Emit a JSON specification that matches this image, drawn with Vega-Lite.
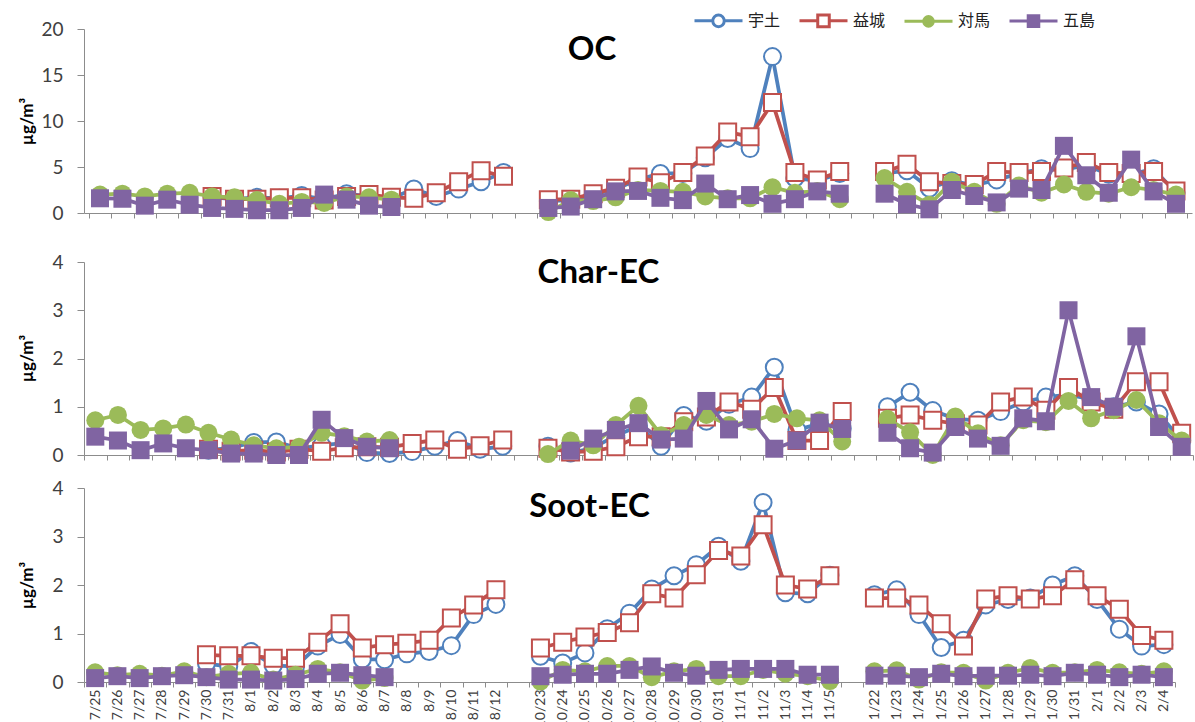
{
"$schema": "https://vega.github.io/schema/vega-lite/v6.json",
"background": "white",
"padding": {"left": 18, "top": -5, "right": 0, "bottom": 0},
"config": {"font": "Lato", "view": {"stroke": null}, "axis": {"labelFont": "Lato", "titleFont": "Lato"}},
"data": {"values": [
{"p":"O","d":"7/25","g":1,"対馬":2.0,"五島":1.6},
{"p":"O","d":"7/26","g":1,"対馬":2.1,"五島":1.55},
{"p":"O","d":"7/27","g":1,"対馬":1.8,"五島":0.8},
{"p":"O","d":"7/28","g":1,"対馬":2.1,"五島":1.45},
{"p":"O","d":"7/29","g":1,"対馬":2.2,"五島":0.9},
{"p":"O","d":"7/30","g":1,"宇土":1.7,"益城":1.8,"対馬":1.8,"五島":0.55},
{"p":"O","d":"7/31","g":1,"宇土":1.5,"益城":1.5,"対馬":1.7,"五島":0.45},
{"p":"O","d":"8/1","g":1,"宇土":1.7,"益城":1.5,"対馬":1.4,"五島":0.3},
{"p":"O","d":"8/2","g":1,"宇土":1.6,"益城":1.65,"対馬":1.0,"五島":0.3},
{"p":"O","d":"8/3","g":1,"宇土":1.9,"益城":1.65,"対馬":1.2,"五島":0.55},
{"p":"O","d":"8/4","g":1,"宇土":1.5,"益城":1.4,"対馬":1.1,"五島":2.0},
{"p":"O","d":"8/5","g":1,"宇土":2.1,"益城":1.8,"対馬":1.8,"五島":1.45},
{"p":"O","d":"8/6","g":1,"宇土":1.8,"益城":2.0,"対馬":1.7,"五島":0.8},
{"p":"O","d":"8/7","g":1,"宇土":1.6,"益城":1.7,"対馬":1.45,"五島":0.65},
{"p":"O","d":"8/8","g":1,"宇土":2.6,"益城":1.6},
{"p":"O","d":"8/9","g":1,"宇土":1.8,"益城":2.2},
{"p":"O","d":"8/10","g":1,"宇土":2.6,"益城":3.4},
{"p":"O","d":"8/11","g":1,"宇土":3.4,"益城":4.6},
{"p":"O","d":"8/12","g":1,"宇土":4.4,"益城":4.0},
{"p":"O","d":"10/23","g":2,"宇土":1.3,"益城":1.45,"対馬":0.1,"五島":0.55},
{"p":"O","d":"10/24","g":2,"宇土":1.4,"益城":1.5,"対馬":1.4,"五島":0.7},
{"p":"O","d":"10/25","g":2,"宇土":2.0,"益城":2.1,"対馬":1.3,"五島":1.5},
{"p":"O","d":"10/26","g":2,"宇土":2.6,"益城":2.7,"対馬":1.7,"五島":2.35},
{"p":"O","d":"10/27","g":2,"宇土":3.6,"益城":3.9,"対馬":2.5,"五島":2.4},
{"p":"O","d":"10/28","g":2,"宇土":4.3,"益城":3.3,"対馬":2.4,"五島":1.65},
{"p":"O","d":"10/29","g":2,"宇土":4.3,"益城":4.4,"対馬":2.3,"五島":1.4},
{"p":"O","d":"10/30","g":2,"宇土":6.0,"益城":6.2,"対馬":1.8,"五島":3.2},
{"p":"O","d":"10/31","g":2,"宇土":8.1,"益城":8.8,"対馬":1.6,"五島":1.5},
{"p":"O","d":"11/1","g":2,"宇土":7.0,"益城":8.3,"対馬":1.6,"五島":1.95},
{"p":"O","d":"11/2","g":2,"宇土":17.0,"益城":12.0,"対馬":2.8,"五島":1.0},
{"p":"O","d":"11/3","g":2,"宇土":3.8,"益城":4.4,"対馬":2.2,"五島":1.5},
{"p":"O","d":"11/4","g":2,"宇土":3.5,"益城":3.6,"対馬":2.4,"五島":2.35},
{"p":"O","d":"11/5","g":2,"宇土":4.3,"益城":4.5,"対馬":1.5,"五島":2.1},
{"p":"O","d":"1/22","g":3,"宇土":4.3,"益城":4.5,"対馬":3.8,"五島":2.1},
{"p":"O","d":"1/23","g":3,"宇土":4.6,"益城":5.3,"対馬":2.3,"五島":0.95},
{"p":"O","d":"1/24","g":3,"宇土":2.7,"益城":3.4,"対馬":0.9,"五島":0.4},
{"p":"O","d":"1/25","g":3,"宇土":3.5,"益城":3.2,"対馬":3.4,"五島":2.5},
{"p":"O","d":"1/26","g":3,"宇土":3.0,"益城":3.1,"対馬":2.3,"五島":1.85},
{"p":"O","d":"1/27","g":3,"宇土":3.6,"益城":4.5,"対馬":1.0,"五島":1.15},
{"p":"O","d":"1/28","g":3,"宇土":4.3,"益城":4.4,"対馬":3.0,"五島":2.65},
{"p":"O","d":"1/29","g":3,"宇土":4.8,"益城":4.5,"対馬":2.2,"五島":2.5},
{"p":"O","d":"1/30","g":3,"宇土":4.7,"益城":4.9,"対馬":3.1,"五島":7.3},
{"p":"O","d":"1/31","g":3,"宇土":5.2,"益城":5.5,"対馬":2.3,"五島":4.1},
{"p":"O","d":"2/1","g":3,"宇土":4.2,"益城":4.4,"対馬":2.1,"五島":2.2},
{"p":"O","d":"2/2","g":3,"宇土":4.2,"益城":4.3,"対馬":2.8,"五島":5.8},
{"p":"O","d":"2/3","g":3,"宇土":4.8,"益城":4.5,"対馬":2.5,"五島":2.35},
{"p":"O","d":"2/4","g":3,"宇土":2.2,"益城":2.4,"対馬":2.0,"五島":1.0},
{"p":"C","d":"7/25","g":1,"対馬":0.72,"五島":0.38},
{"p":"C","d":"7/26","g":1,"対馬":0.83,"五島":0.3},
{"p":"C","d":"7/27","g":1,"対馬":0.52,"五島":0.1},
{"p":"C","d":"7/28","g":1,"対馬":0.55,"五島":0.24},
{"p":"C","d":"7/29","g":1,"対馬":0.63,"五島":0.14},
{"p":"C","d":"7/30","g":1,"宇土":0.1,"益城":0.12,"対馬":0.46,"五島":0.1},
{"p":"C","d":"7/31","g":1,"宇土":0.15,"益城":0.08,"対馬":0.32,"五島":0.03},
{"p":"C","d":"8/1","g":1,"宇土":0.26,"益城":0.1,"対馬":0.2,"五島":0.03},
{"p":"C","d":"8/2","g":1,"宇土":0.27,"益城":0.06,"対馬":0.14,"五島":0.0},
{"p":"C","d":"8/3","g":1,"宇土":0.14,"益城":0.12,"対馬":0.17,"五島":0.0},
{"p":"C","d":"8/4","g":1,"宇土":0.2,"益城":0.08,"対馬":0.46,"五島":0.73},
{"p":"C","d":"8/5","g":1,"宇土":0.25,"益城":0.15,"対馬":0.39,"五島":0.35},
{"p":"C","d":"8/6","g":1,"宇土":0.05,"益城":0.17,"対馬":0.28,"五島":0.17},
{"p":"C","d":"8/7","g":1,"宇土":0.03,"益城":0.16,"対馬":0.31,"五島":0.14},
{"p":"C","d":"8/8","g":1,"宇土":0.07,"益城":0.24},
{"p":"C","d":"8/9","g":1,"宇土":0.18,"益城":0.31},
{"p":"C","d":"8/10","g":1,"宇土":0.3,"益城":0.12},
{"p":"C","d":"8/11","g":1,"宇土":0.12,"益城":0.19},
{"p":"C","d":"8/12","g":1,"宇土":0.18,"益城":0.31},
{"p":"C","d":"10/23","g":2,"宇土":0.18,"益城":0.14,"対馬":0.02},
{"p":"C","d":"10/24","g":2,"宇土":0.04,"益城":0.06,"対馬":0.3,"五島":0.09},
{"p":"C","d":"10/25","g":2,"宇土":0.15,"益城":0.08,"対馬":0.2,"五島":0.34},
{"p":"C","d":"10/26","g":2,"宇土":0.4,"益城":0.17,"対馬":0.62,"五島":0.52},
{"p":"C","d":"10/27","g":2,"宇土":0.6,"益城":0.38,"対馬":1.02,"五島":0.66},
{"p":"C","d":"10/28","g":2,"宇土":0.18,"益城":0.38,"対馬":0.41,"五島":0.32},
{"p":"C","d":"10/29","g":2,"宇土":0.82,"益城":0.69,"対馬":0.62,"五島":0.34},
{"p":"C","d":"10/30","g":2,"宇土":0.7,"益城":0.79,"対馬":0.83,"五島":1.12},
{"p":"C","d":"10/31","g":2,"宇土":1.05,"益城":1.1,"対馬":0.62,"五島":0.53},
{"p":"C","d":"11/1","g":2,"宇土":1.2,"益城":0.95,"対馬":0.69,"五島":0.74},
{"p":"C","d":"11/2","g":2,"宇土":1.82,"益城":1.4,"対馬":0.85,"五島":0.13},
{"p":"C","d":"11/3","g":2,"宇土":0.52,"益城":0.3,"対馬":0.76,"五島":0.3},
{"p":"C","d":"11/4","g":2,"宇土":0.65,"益城":0.3,"対馬":0.72,"五島":0.67},
{"p":"C","d":"11/5","g":2,"宇土":0.55,"益城":0.9,"対馬":0.28,"五島":0.54},
{"p":"C","d":"1/22","g":3,"宇土":1.0,"益城":0.76,"対馬":0.75,"五島":0.46},
{"p":"C","d":"1/23","g":3,"宇土":1.3,"益城":0.83,"対馬":0.47,"五島":0.14},
{"p":"C","d":"1/24","g":3,"宇土":0.92,"益城":0.72,"対馬":0.0,"五島":0.05},
{"p":"C","d":"1/25","g":3,"宇土":0.75,"益城":0.65,"対馬":0.8,"五島":0.58},
{"p":"C","d":"1/26","g":3,"宇土":0.72,"益城":0.62,"対馬":0.45,"五島":0.34},
{"p":"C","d":"1/27","g":3,"宇土":0.9,"益城":1.1,"対馬":0.2,"五島":0.19},
{"p":"C","d":"1/28","g":3,"宇土":1.1,"益城":1.2,"対馬":0.72,"五島":0.76},
{"p":"C","d":"1/29","g":3,"宇土":1.2,"益城":0.93,"対馬":0.68,"五島":0.7},
{"p":"C","d":"1/30","g":3,"宇土":1.25,"益城":1.4,"対馬":1.12,"五島":3.0},
{"p":"C","d":"1/31","g":3,"宇土":1.15,"益城":1.1,"対馬":0.76,"五島":1.2},
{"p":"C","d":"2/1","g":3,"宇土":1.0,"益城":0.95,"対馬":0.93,"五島":1.0},
{"p":"C","d":"2/2","g":3,"宇土":1.1,"益城":1.52,"対馬":1.14,"五島":2.46},
{"p":"C","d":"2/3","g":3,"宇土":0.85,"益城":1.52,"対馬":0.66,"五島":0.58},
{"p":"C","d":"2/4","g":3,"宇土":0.3,"益城":0.45,"対馬":0.3,"五島":0.17},
{"p":"S","d":"7/25","g":1,"対馬":0.2,"五島":0.08},
{"p":"S","d":"7/26","g":1,"対馬":0.14,"五島":0.12},
{"p":"S","d":"7/27","g":1,"対馬":0.17,"五島":0.08},
{"p":"S","d":"7/28","g":1,"対馬":0.13,"五島":0.12},
{"p":"S","d":"7/29","g":1,"対馬":0.22,"五島":0.14},
{"p":"S","d":"7/30","g":1,"宇土":0.38,"益城":0.56,"対馬":0.1,"五島":0.1},
{"p":"S","d":"7/31","g":1,"宇土":0.32,"益城":0.54,"対馬":0.17,"五島":0.05},
{"p":"S","d":"8/1","g":1,"宇土":0.63,"益城":0.54,"対馬":0.19,"五島":0.05},
{"p":"S","d":"8/2","g":1,"宇土":0.34,"益城":0.49,"対馬":0.05,"五島":0.03},
{"p":"S","d":"8/3","g":1,"宇土":0.32,"益城":0.49,"対馬":0.15,"五島":0.06},
{"p":"S","d":"8/4","g":1,"宇土":0.74,"益城":0.82,"対馬":0.27,"五島":0.17},
{"p":"S","d":"8/5","g":1,"宇土":0.98,"益城":1.2,"対馬":0.2,"五島":0.19},
{"p":"S","d":"8/6","g":1,"宇土":0.47,"益城":0.7,"対馬":0.03,"五島":0.14},
{"p":"S","d":"8/7","g":1,"宇土":0.46,"益城":0.77,"対馬":0.08,"五島":0.1},
{"p":"S","d":"8/8","g":1,"宇土":0.58,"益城":0.8},
{"p":"S","d":"8/9","g":1,"宇土":0.63,"益城":0.86},
{"p":"S","d":"8/10","g":1,"宇土":0.75,"益城":1.32},
{"p":"S","d":"8/11","g":1,"宇土":1.39,"益城":1.59},
{"p":"S","d":"8/12","g":1,"宇土":1.6,"益城":1.9},
{"p":"S","d":"10/23","g":2,"宇土":0.53,"益城":0.7,"対馬":0.01,"五島":0.12},
{"p":"S","d":"10/24","g":2,"宇土":0.39,"益城":0.82,"対馬":0.25,"五島":0.15},
{"p":"S","d":"10/25","g":2,"宇土":0.6,"益城":0.93,"対馬":0.22,"五島":0.17},
{"p":"S","d":"10/26","g":2,"宇土":1.1,"益城":1.02,"対馬":0.33,"五島":0.17},
{"p":"S","d":"10/27","g":2,"宇土":1.42,"益城":1.22,"対馬":0.33,"五島":0.25},
{"p":"S","d":"10/28","g":2,"宇土":1.92,"益城":1.82,"対馬":0.1,"五島":0.32},
{"p":"S","d":"10/29","g":2,"宇土":2.19,"益城":1.73,"対馬":0.22,"五島":0.19},
{"p":"S","d":"10/30","g":2,"宇土":2.42,"益城":2.21,"対馬":0.27,"五島":0.13},
{"p":"S","d":"10/31","g":2,"宇土":2.8,"益城":2.71,"対馬":0.12,"五島":0.25},
{"p":"S","d":"11/1","g":2,"宇土":2.49,"益城":2.6,"対馬":0.12,"五島":0.27},
{"p":"S","d":"11/2","g":2,"宇土":3.7,"益城":3.24,"対馬":0.25,"五島":0.27},
{"p":"S","d":"11/3","g":2,"宇土":1.84,"益城":2.0,"対馬":0.17,"五島":0.27},
{"p":"S","d":"11/4","g":2,"宇土":1.82,"益城":1.92,"対馬":0.12,"五島":0.15},
{"p":"S","d":"11/5","g":2,"宇土":2.2,"益城":2.19,"対馬":0.02,"五島":0.15},
{"p":"S","d":"1/22","g":3,"宇土":1.8,"益城":1.73,"対馬":0.22,"五島":0.13},
{"p":"S","d":"1/23","g":3,"宇土":1.9,"益城":1.73,"対馬":0.24,"五島":0.13},
{"p":"S","d":"1/24","g":3,"宇土":1.39,"益城":1.59,"対馬":0.05,"五島":0.1},
{"p":"S","d":"1/25","g":3,"宇土":0.71,"益城":1.2,"対馬":0.2,"五島":0.17},
{"p":"S","d":"1/26","g":3,"宇土":0.86,"益城":0.74,"対馬":0.19,"五島":0.12},
{"p":"S","d":"1/27","g":3,"宇土":1.59,"益城":1.71,"対馬":0.03,"五島":0.13},
{"p":"S","d":"1/28","g":3,"宇土":1.7,"益城":1.78,"対馬":0.19,"五島":0.13},
{"p":"S","d":"1/29","g":3,"宇土":1.73,"益城":1.71,"対馬":0.29,"五島":0.15},
{"p":"S","d":"1/30","g":3,"宇土":2.0,"益城":1.78,"対馬":0.19,"五島":0.12},
{"p":"S","d":"1/31","g":3,"宇土":2.19,"益城":2.11,"対馬":0.2,"五島":0.19},
{"p":"S","d":"2/1","g":3,"宇土":1.7,"益城":1.78,"対馬":0.25,"五島":0.15},
{"p":"S","d":"2/2","g":3,"宇土":1.09,"益城":1.5,"対馬":0.2,"五島":0.1},
{"p":"S","d":"2/3","g":3,"宇土":0.74,"益城":0.96,"対馬":0.17,"五島":0.15},
{"p":"S","d":"2/4","g":3,"宇土":0.77,"益城":0.86,"対馬":0.22,"五島":0.1}
]},
"transform": [{"fold": ["宇土","益城","対馬","五島"], "as": ["s","v"]}],
"resolve": {"scale": {"x": "independent", "y": "independent"}},
"bounds": "flush",
"spacing": 33,
"vconcat": [
{
"width": 1108, "height": 184,
"title": {"text": "OC", "fontSize": 33, "font": "Lato", "fontWeight": "bold", "color": "#000", "anchor": "middle", "frame": "group", "offset": -47, "dx": -46},
"transform": [{"filter": "datum.p === 'O'"}],
"encoding": {
"x": {"field": "d", "type": "ordinal",
"sort": ["7/25","7/26","7/27","7/28","7/29","7/30","7/31","8/1","8/2","8/3","8/4","8/5","8/6","8/7","8/8","8/9","8/10","8/11","8/12"," ","10/23","10/24","10/25","10/26","10/27","10/28","10/29","10/30","10/31","11/1","11/2","11/3","11/4","11/5","  ","1/22","1/23","1/24","1/25","1/26","1/27","1/28","1/29","1/30","1/31","2/1","2/2","2/3","2/4"],
"scale": {"type": "band", "paddingInner": 0, "paddingOuter": 0.214, "domain": ["7/25","7/26","7/27","7/28","7/29","7/30","7/31","8/1","8/2","8/3","8/4","8/5","8/6","8/7","8/8","8/9","8/10","8/11","8/12"," ","10/23","10/24","10/25","10/26","10/27","10/28","10/29","10/30","10/31","11/1","11/2","11/3","11/4","11/5","  ","1/22","1/23","1/24","1/25","1/26","1/27","1/28","1/29","1/30","1/31","2/1","2/2","2/3","2/4"]},
"axis": {"title": null, "labels": false, "ticks": true, "tickBand": "extent", "tickSize": 5, "tickColor": "#8c8c8c", "domainColor": "#8c8c8c", "grid": false}},
"y": {"field": "v", "type": "quantitative", "scale": {"domain": [0, 20], "nice": false},
"axis": {"values": [0,5,10,15,20], "title": "µg/m³", "titleX": -57, "titleY": 92, "titleAngle": 270, "titleBaseline": "middle", "titleAlign": "center", "titleFontSize": 17, "titleFontWeight": "bold", "titleColor": "#000", "labelFontSize": 19, "labelColor": "#404040", "labelPadding": 14, "tickSize": 7, "tickColor": "#8c8c8c", "domainColor": "#8c8c8c", "grid": false}},
"color": {"field": "s", "type": "nominal", "scale": {"domain": ["宇土","益城","対馬","五島"], "range": ["#4F81BD","#C0504D","#9BBB59","#8064A2"]},
"legend": {"orient": "none", "legendX": 609, "legendY": -34, "direction": "horizontal", "title": null, "symbolSize": 2304, "labelFont": "Noto Sans CJK JP", "labelFontSize": 16, "labelColor": "#222", "labelOffset": 4, "columnPadding": 12,
"encode": {"symbols": {"update": {
"shape": {"signal": "datum.value === '宇土' ? 'M-1,0H-0.24M0.24,0H1M0.24,0A0.24,0.24 0 1,1 -0.24,0A0.24,0.24 0 1,1 0.24,0ZM0.24,0A0.24,0.24 0 1,0 -0.24,0A0.24,0.24 0 1,0 0.24,0Z' : datum.value === '益城' ? 'M-1,0H-0.24M0.24,0H1M-0.24,-0.24H0.24V0.24H-0.24ZM-0.24,-0.24V0.24H0.24V-0.24Z' : datum.value === '対馬' ? 'M-1,0H1M0.2,0A0.2,0.2 0 1,1 -0.2,0A0.2,0.2 0 1,1 0.2,0Z' : 'M-1,0H1M-0.22,-0.22H0.22V0.22H-0.22Z'"},
"fill": {"signal": "datum.value === '宇土' || datum.value === '益城' ? 'white' : datum.value === '対馬' ? '#9BBB59' : '#8064A2'"},
"stroke": {"signal": "datum.value === '宇土' ? '#4F81BD' : datum.value === '益城' ? '#C0504D' : datum.value === '対馬' ? '#9BBB59' : '#8064A2'"},
"strokeWidth": {"value": 3}, "opacity": {"value": 1}}}}}},
"detail": {"field": "g", "type": "nominal"}
},
"layer": [
{"transform": [{"filter": "datum.s === '宇土'"}], "layer": [
{"mark": {"type": "line", "strokeWidth": 3.75}},
{"mark": {"type": "point", "shape": "circle", "filled": false, "fill": "white", "strokeWidth": 2, "size": 289, "opacity": 1}}]},
{"transform": [{"filter": "datum.s === '益城'"}], "layer": [
{"mark": {"type": "line", "strokeWidth": 3.75}},
{"mark": {"type": "point", "shape": "square", "filled": false, "fill": "white", "strokeWidth": 2, "size": 289, "opacity": 1}}]},
{"transform": [{"filter": "datum.s === '対馬'"}], "layer": [
{"mark": {"type": "line", "strokeWidth": 3.75}},
{"mark": {"type": "point", "shape": "circle", "filled": true, "size": 324, "opacity": 1}}]},
{"transform": [{"filter": "datum.s === '五島'"}], "layer": [
{"mark": {"type": "line", "strokeWidth": 3.75}},
{"mark": {"type": "point", "shape": "square", "filled": true, "size": 324, "opacity": 1}}]}
]
},
{
"width": 1109, "height": 209,
"title": {"text": "Char-EC", "fontSize": 33, "font": "Lato", "fontWeight": "bold", "color": "#000", "anchor": "middle", "frame": "group", "offset": -44, "dx": -40},
"transform": [{"filter": "datum.p === 'C'"}],
"encoding": {
"x": {"field": "d", "type": "ordinal",
"sort": ["7/25","7/26","7/27","7/28","7/29","7/30","7/31","8/1","8/2","8/3","8/4","8/5","8/6","8/7","8/8","8/9","8/10","8/11","8/12"," ","10/23","10/24","10/25","10/26","10/27","10/28","10/29","10/30","10/31","11/1","11/2","11/3","11/4","11/5","  ","1/22","1/23","1/24","1/25","1/26","1/27","1/28","1/29","1/30","1/31","2/1","2/2","2/3","2/4"],
"scale": {"type": "band", "paddingInner": 0, "paddingOuter": 0, "domain": ["7/25","7/26","7/27","7/28","7/29","7/30","7/31","8/1","8/2","8/3","8/4","8/5","8/6","8/7","8/8","8/9","8/10","8/11","8/12"," ","10/23","10/24","10/25","10/26","10/27","10/28","10/29","10/30","10/31","11/1","11/2","11/3","11/4","11/5","  ","1/22","1/23","1/24","1/25","1/26","1/27","1/28","1/29","1/30","1/31","2/1","2/2","2/3","2/4"]},
"axis": {"title": null, "labels": false, "ticks": true, "tickBand": "extent", "tickSize": 5, "tickColor": "#8c8c8c", "domainColor": "#8c8c8c", "grid": false}},
"y": {"field": "v", "type": "quantitative", "scale": {"domain": [0, 4], "nice": false, "range": [209, 16]},
"axis": {"values": [0,1,2,3,4], "title": "µg/m³", "titleX": -57, "titleY": 112, "titleAngle": 270, "titleBaseline": "middle", "titleAlign": "center", "titleFontSize": 17, "titleFontWeight": "bold", "titleColor": "#000", "labelFontSize": 19, "labelColor": "#404040", "labelPadding": 14, "tickSize": 7, "tickColor": "#8c8c8c", "domainColor": "#8c8c8c", "grid": false}},
"color": {"field": "s", "type": "nominal", "scale": {"domain": ["宇土","益城","対馬","五島"], "range": ["#4F81BD","#C0504D","#9BBB59","#8064A2"]}},
"detail": {"field": "g", "type": "nominal"}
},
"layer": [
{"transform": [{"filter": "datum.s === '宇土'"}], "layer": [
{"mark": {"type": "line", "strokeWidth": 3.75}},
{"mark": {"type": "point", "shape": "circle", "filled": false, "fill": "white", "strokeWidth": 2, "size": 289, "opacity": 1}}]},
{"transform": [{"filter": "datum.s === '益城'"}], "layer": [
{"mark": {"type": "line", "strokeWidth": 3.75}},
{"mark": {"type": "point", "shape": "square", "filled": false, "fill": "white", "strokeWidth": 2, "size": 289, "opacity": 1}}]},
{"transform": [{"filter": "datum.s === '対馬'"}], "layer": [
{"mark": {"type": "line", "strokeWidth": 3.75}},
{"mark": {"type": "point", "shape": "circle", "filled": true, "size": 324, "opacity": 1}}]},
{"transform": [{"filter": "datum.s === '五島'"}], "layer": [
{"mark": {"type": "line", "strokeWidth": 3.75}},
{"mark": {"type": "point", "shape": "square", "filled": true, "size": 324, "opacity": 1}}]}
]
},
{
"width": 1091, "height": 194,
"title": {"text": "Soot-EC", "fontSize": 33, "font": "Lato", "fontWeight": "bold", "color": "#000", "anchor": "middle", "frame": "group", "offset": -45, "dx": -40},
"transform": [{"filter": "datum.p === 'S'"}],
"encoding": {
"x": {"field": "d", "type": "ordinal",
"sort": ["7/25","7/26","7/27","7/28","7/29","7/30","7/31","8/1","8/2","8/3","8/4","8/5","8/6","8/7","8/8","8/9","8/10","8/11","8/12"," ","10/23","10/24","10/25","10/26","10/27","10/28","10/29","10/30","10/31","11/1","11/2","11/3","11/4","11/5","  ","1/22","1/23","1/24","1/25","1/26","1/27","1/28","1/29","1/30","1/31","2/1","2/2","2/3","2/4"],
"scale": {"type": "band", "paddingInner": 0, "paddingOuter": 0, "domain": ["7/25","7/26","7/27","7/28","7/29","7/30","7/31","8/1","8/2","8/3","8/4","8/5","8/6","8/7","8/8","8/9","8/10","8/11","8/12"," ","10/23","10/24","10/25","10/26","10/27","10/28","10/29","10/30","10/31","11/1","11/2","11/3","11/4","11/5","  ","1/22","1/23","1/24","1/25","1/26","1/27","1/28","1/29","1/30","1/31","2/1","2/2","2/3","2/4"]},
"axis": {"title": null, "labels": true, "labelAngle": 270, "labelFontSize": 14, "labelColor": "#404040", "labelPadding": 2, "ticks": true, "tickBand": "extent", "tickSize": 5, "tickColor": "#8c8c8c", "domainColor": "#8c8c8c", "grid": false}},
"y": {"field": "v", "type": "quantitative", "scale": {"domain": [0, 4], "nice": false},
"axis": {"values": [0,1,2,3,4], "title": "µg/m³", "titleX": -57, "titleY": 97, "titleAngle": 270, "titleBaseline": "middle", "titleAlign": "center", "titleFontSize": 17, "titleFontWeight": "bold", "titleColor": "#000", "labelFontSize": 19, "labelColor": "#404040", "labelPadding": 14, "tickSize": 7, "tickColor": "#8c8c8c", "domainColor": "#8c8c8c", "grid": false}},
"color": {"field": "s", "type": "nominal", "scale": {"domain": ["宇土","益城","対馬","五島"], "range": ["#4F81BD","#C0504D","#9BBB59","#8064A2"]}},
"detail": {"field": "g", "type": "nominal"}
},
"layer": [
{"transform": [{"filter": "datum.s === '宇土'"}], "layer": [
{"mark": {"type": "line", "strokeWidth": 3.75}},
{"mark": {"type": "point", "shape": "circle", "filled": false, "fill": "white", "strokeWidth": 2, "size": 289, "opacity": 1}}]},
{"transform": [{"filter": "datum.s === '益城'"}], "layer": [
{"mark": {"type": "line", "strokeWidth": 3.75}},
{"mark": {"type": "point", "shape": "square", "filled": false, "fill": "white", "strokeWidth": 2, "size": 289, "opacity": 1}}]},
{"transform": [{"filter": "datum.s === '対馬'"}], "layer": [
{"mark": {"type": "line", "strokeWidth": 3.75}},
{"mark": {"type": "point", "shape": "circle", "filled": true, "size": 324, "opacity": 1}}]},
{"transform": [{"filter": "datum.s === '五島'"}], "layer": [
{"mark": {"type": "line", "strokeWidth": 3.75}},
{"mark": {"type": "point", "shape": "square", "filled": true, "size": 324, "opacity": 1}}]}
]
}
]
}
